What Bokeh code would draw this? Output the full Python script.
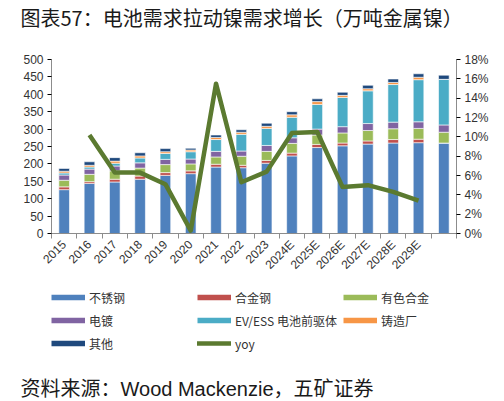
from math import pi

from bokeh.embed import file_html
from bokeh.layouts import column
from bokeh.models import (ColumnDataSource, FixedTicker, Legend, LegendItem,
                          LinearAxis, PrintfTickFormatter, Range1d, Title)
from bokeh.plotting import figure
from bokeh.resources import INLINE

title = "图表57：电池需求拉动镍需求增长（万吨金属镍）"
source_note = "资料来源：Wood Mackenzie，五矿证券"

# categories (last bar has no label in the original)
years = ["2015", "2016", "2017", "2018", "2019", "2020", "2021", "2022", "2023",
         "2024E", "2025E", "2026E", "2027E", "2028E", "2029E", ""]

# nickel demand by end use, 10kt Ni
stainless = [126, 144, 148, 156, 167, 172, 191, 189, 202, 223, 247, 252, 257, 260, 261, 260]
alloy_steel = [8, 5, 8, 9, 8, 8, 8, 7, 8, 8, 9, 8, 9, 10, 10, 0]
nonferrous = [19, 21, 24, 23, 23, 20, 21, 26, 26, 28, 27, 29, 30, 31, 31, 31]
plating = [15, 15, 14, 15, 15, 14, 16, 15, 17, 16, 17, 18, 20, 19, 19, 21]
battery = [6, 6, 8, 14, 17, 21, 34, 48, 49, 59, 71, 84, 94, 108, 121, 131]
foundry = [5, 5, 6, 6, 5, 5, 6, 6, 6, 7, 8, 6, 6, 6, 7, 0]
other = [8, 10, 10, 9, 9, 5, 7, 7, 9, 9, 8, 9, 10, 10, 10, 12]

# yoy growth, %
yoy = [None, 10.2, 6.3, 6.3, 5.1, 0.3, 15.5, 5.3, 6.4, 10.4, 10.5, 4.8, 5.0, 4.3, 3.4, None]

series = ["stainless", "alloy_steel", "nonferrous", "plating", "battery", "foundry", "other"]
labels = ["不锈钢", "合金钢", "有色合金", "电镀", "EV/ESS 电池前驱体", "铸造厂", "其他"]
colors = ["#4f81bd", "#c0504d", "#9bbb59", "#8064a2", "#4bacc6", "#f79646", "#1f497d"]
yoy_color = "#5b7a30"

NAN = float("nan")
src = ColumnDataSource(dict(
    x=list(range(len(years))),
    stainless=stainless, alloy_steel=alloy_steel, nonferrous=nonferrous,
    plating=plating, battery=battery, foundry=foundry, other=other,
    yoy=[NAN if v is None else v for v in yoy],
))

AXIS = "#8c8c8c"
TXT = "#333333"
INK = "#1a1a1a"
FONT = "Liberation Sans"
CJK = "Noto Sans CJK SC"
W = 504


def blank(height, width=W, margin=(0, 0, 0, 0)):
    f = figure(width=width, height=height, x_axis_type=None, y_axis_type=None,
               min_border=0, margin=margin, toolbar_location=None, output_backend="svg")
    f.outline_line_color = None
    return f


def heading(text, font):
    return Title(text=text, align="left", offset=-31, standoff=0,
                 text_font=font, text_font_size="20px", text_font_style="normal",
                 text_color=INK)


def rule(top, bottom=0):
    # a 1px high plot filled black = horizontal rule
    f = blank(1, width=494, margin=(top, 0, bottom, 6))
    f.background_fill_color = INK
    f.border_fill_color = INK
    return f


head = blank(29)
head.add_layout(heading(title, CJK), "below")

foot = blank(24)
foot.title = heading(source_note, "'Liberation Sans', 'Noto Sans CJK SC'")

# main chart
p = figure(frame_width=405, frame_height=174,
           x_range=Range1d(-0.5, len(years) - 0.5), y_range=Range1d(0, 500),
           min_border_left=51, min_border_right=48, min_border_top=26, min_border_bottom=50,
           toolbar_location=None, output_backend="svg")
p.extra_y_ranges = {"yoy": Range1d(0, 18)}
p.outline_line_color = None
p.grid.visible = False

p.vbar_stack(series, x="x", width=0.42, source=src, color=colors,
             line_color="white", line_width=0.6)
p.line("x", "yoy", source=src, y_range_name="yoy",
       line_color=yoy_color, line_width=4.5, line_join="round")

# category labels centred, ticks on the category boundaries
p.xaxis.ticker = FixedTicker(ticks=list(range(len(years) - 1)),
                             minor_ticks=[i - 0.5 for i in range(len(years) + 1)])
p.xaxis.major_label_overrides = {i: y for i, y in enumerate(years) if y}
p.xaxis.major_label_orientation = pi / 4
p.xaxis.minor_tick_line_color = AXIS
p.xaxis.minor_tick_out = 5
p.xaxis.minor_tick_in = 0

p.yaxis.ticker = FixedTicker(ticks=list(range(0, 501, 50)))
p.yaxis.minor_tick_line_color = None

right = LinearAxis(y_range_name="yoy", ticker=FixedTicker(ticks=list(range(0, 19, 2))),
                   formatter=PrintfTickFormatter(format="%d%%"))
right.minor_tick_line_color = None
p.add_layout(right, "right")

for ax in p.axis:
    ax.axis_line_color = AXIS
    ax.major_tick_out = 4
    ax.major_tick_in = 0
    ax.major_label_text_font = FONT
    ax.major_label_text_font_size = "12px"
    ax.major_label_text_color = TXT
    ax.major_label_standoff = 4
p.xaxis.major_tick_line_color = None

# legend strip: thick line swatches like the original (proxies hold no visible data)
lg = blank(73)
swatches = [lg.line(x=[NAN], y=[NAN], line_color=c, line_width=5.5) for c in colors]
swatches.append(lg.line(x=[NAN], y=[NAN], line_color=yoy_color, line_width=4.5,
                        line_cap="round"))
items = [LegendItem(label=lab, renderers=[r])
         for lab, r in zip(labels + ["yoy"], swatches)]
legend = Legend(items=items, orientation="horizontal", ncols=3,
                location=(0, 4), glyph_width=34, glyph_height=18,
                label_standoff=4, label_width=103, label_height=18, spacing=5,
                padding=0, margin=0, border_line_color=None, background_fill_alpha=0,
                label_text_font=CJK, label_text_font_size="12px", label_text_color=TXT)
lg.add_layout(legend)

layout = column(head, rule(3), p, lg, rule(13, 5), foot, spacing=0)
open("out.html", "w").write(file_html(layout, INLINE))
